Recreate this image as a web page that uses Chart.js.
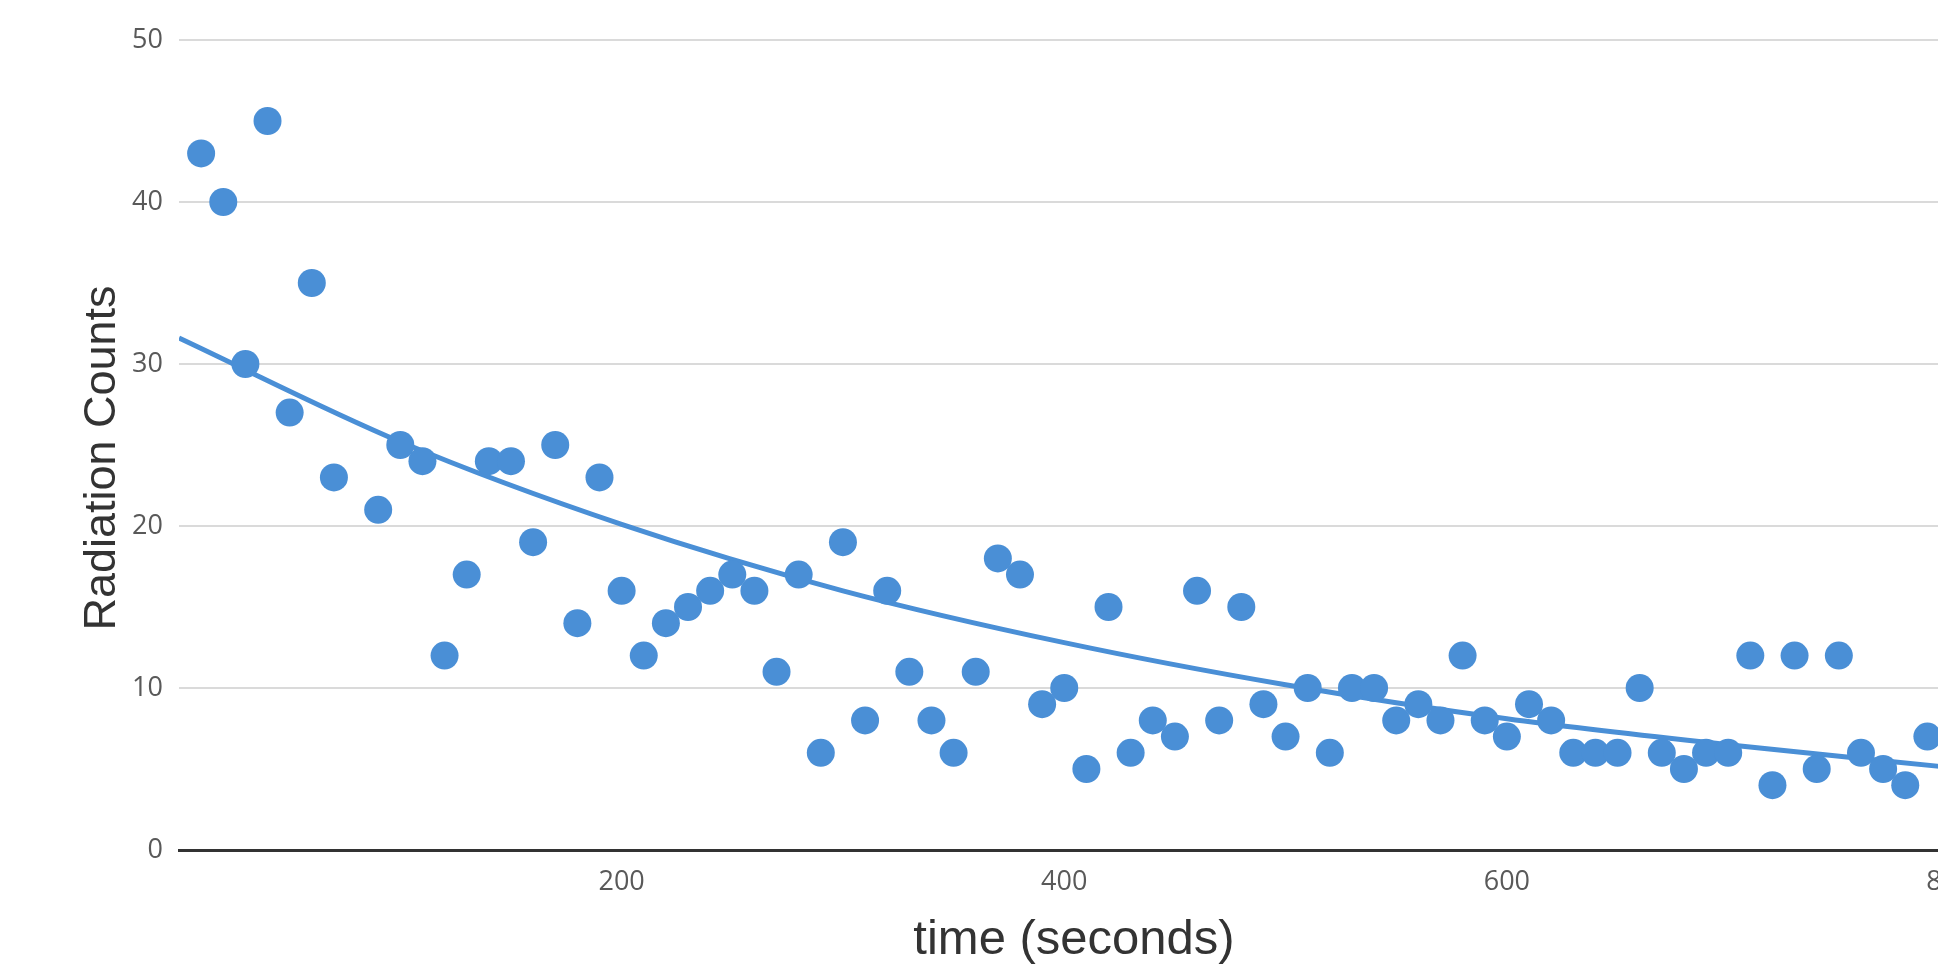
<!DOCTYPE html>
<html>
<head>
<meta charset="utf-8">
<title>Radiation Counts</title>
<script src="https://cdn.jsdelivr.net/npm/chart.js@4.4.0/dist/chart.umd.min.js"></script>
<style>
html, body { margin: 0; padding: 0; background: #fff; overflow: hidden; }
#wrap { width: 1990px; height: 969px; }
</style>
</head>
<body>

<div id="wrap">
<canvas id="grafica" width="1990" height="969"></canvas>
</div>

<script>

// measured points (time in seconds, counts)
const timeValues = [
10,20,30,40,50,60,70,90,100,
110,120,130,140,150,160,170,180,190,200,
210,220,230,240,250,260,270,280,290,300,
310,320,330,340,350,360,370,380,390,400,
410,420,430,440,450,460,470,480,490,500,
510,520,530,540,550,560,570,580,590,600,
610,620,630,640,650,660,670,680,690,700,
710,720,730,740,750,760,770,780,790
];

const countValues = [
43,40,30,45,27,35,23,21,25,
24,12,17,24,24,19,25,14,23,16,
12,14,15,16,17,16,11,17,6,19,
8,16,11,8,6,11,18,17,9,10,
5,15,6,8,7,16,8,15,9,7,
10,6,10,10,8,9,8,12,8,7,
9,8,6,6,6,10,6,5,6,6,
12,4,12,5,12,6,5,4,7
];

// exponential trendline
const trendTime = [0,100,200,300,400,500,600,700,800];
const trendCounts = [31.6,25.2,20.1,16.0,12.8,10.2,8.1,6.5,5.1];

const xTicks = [200,400,600,800];
const yTicks = [0,10,20,30,40,50];

const azul = "#4a8fd6";


const puntos = timeValues.map((t,i)=>({x:t,y:countValues[i]}));
const tendencia = trendTime.map((t,i)=>({x:t,y:trendCounts[i]}));


/* axis titles, placed where the original has them (a bit off centre) */
const titulos = {
id:"titulos",
afterDraw(chart){
const ctx = chart.ctx;
ctx.save();
ctx.fillStyle = "#333";
ctx.textAlign = "center";
ctx.textBaseline = "middle";

ctx.font = "49px 'Liberation Sans'";
ctx.fillText("time (seconds)",1074,940);

ctx.translate(103,458);
ctx.rotate(-Math.PI/2);
ctx.font = "45px 'Liberation Sans'";
ctx.fillText("Radiation Counts",0,0);
ctx.restore();
}
};

new Chart(document.getElementById("grafica"),{
type:"scatter",
data:{
datasets:[
{
label:"Counts",
data:puntos,
backgroundColor:azul,
borderColor:azul,
borderWidth:0,
pointRadius:14,
pointHoverRadius:14,
order:1
},
{
type:"line",
label:"Trendline",
data:tendencia,
borderColor:azul,
borderWidth:5,
pointRadius:0,
fill:false,
cubicInterpolationMode:"monotone",
order:2
}
]
},
options:{
responsive:false,
animation:false,
layout:{
padding:{left:73,right:40.5,top:40,bottom:1}
},
plugins:{
legend:{display:false},
tooltip:{enabled:false}
},
scales:{
x:{
type:"linear",
min:0,
max:800,
afterBuildTicks:s=>{ s.ticks = xTicks.map(v=>({value:v})); },
afterFit:s=>{ s.height = 969 - 850 - 1; },
grid:{display:false,drawTicks:false},
border:{display:true,color:"#333",width:3},
ticks:{
padding:16,
color:"#595959",
font:{family:"Open Sans",size:27}
},
title:{display:false}
},
y:{
min:0,
max:50,
afterBuildTicks:s=>{ s.ticks = yTicks.map(v=>({value:v})); },
afterFit:s=>{ s.width = 179 - 73; },
grid:{
drawTicks:false,
lineWidth:2,
color:c=>c.tick && c.tick.value===0 ? "rgba(0,0,0,0)" : "#dadada"
},
border:{display:false},
ticks:{
padding:16,
color:"#595959",
font:{family:"Open Sans",size:27}
},
title:{display:false}
}
}
},
plugins:[titulos]
});

</script>
</body>
</html>
